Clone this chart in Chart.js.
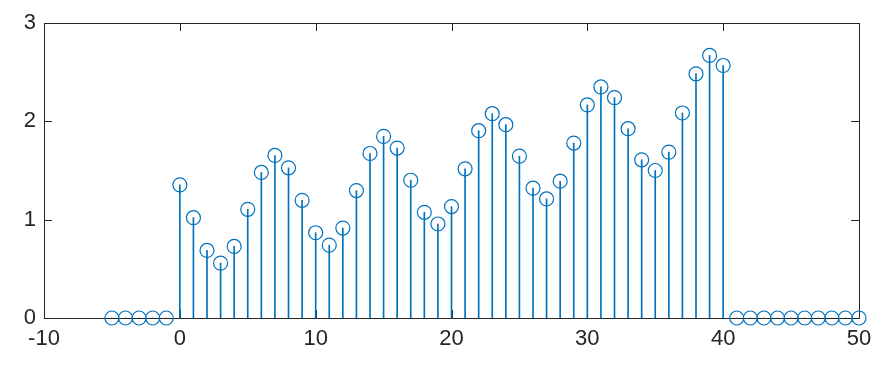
<!DOCTYPE html>
<html>
<head>
<meta charset="utf-8">
<script src="https://cdn.jsdelivr.net/npm/chart.js@4"></script>
<style>
  html, body { margin: 0; padding: 0; background: #fff; }
  canvas { display: block; }
</style>
</head>
<body>
<canvas id="grafico" width="892" height="377"></canvas>
<script>
// indices n and values y[n]
const indices = [-5, -4, -3, -2, -1, 0, 1, 2, 3, 4, 5, 6, 7, 8, 9, 10, 11, 12, 13, 14,
  15, 16, 17, 18, 19, 20, 21, 22, 23, 24, 25, 26, 27, 28, 29, 30, 31, 32, 33, 34,
  35, 36, 37, 38, 39, 40, 41, 42, 43, 44, 45, 46, 47, 48, 49, 50];
const valores = [0, 0, 0, 0, 0, 1.354, 1.02, 0.687, 0.558, 0.728, 1.105, 1.48, 1.653, 1.527, 1.197,
  0.867, 0.741, 0.915, 1.296, 1.673, 1.847, 1.728, 1.401, 1.075, 0.956,
  1.133, 1.517, 1.905, 2.078, 1.966, 1.646, 1.32, 1.211, 1.391, 1.779,
  2.167, 2.35, 2.241, 1.925, 1.609, 1.5, 1.687, 2.085, 2.483, 2.67, 2.568,
  0, 0, 0, 0, 0, 0, 0, 0, 0, 0];
const ticksX = [-10, 0, 10, 20, 30, 40, 50];
const ticksY = [0, 1, 2, 3];

const azul = "#0072BD";
const ejes = "#262626";

const puntos = indices.map((x, i) => ({ x: x, y: valores[i] }));

// caja y marcas hacia dentro, estilo MATLAB
const cajaEjes = {
  id: "cajaEjes",
  beforeDatasetsDraw(chart) {
    const { ctx, chartArea: a, scales } = chart;
    const largo = 8;
    ctx.save();
    ctx.strokeStyle = ejes;
    ctx.lineWidth = 1;
    ctx.strokeRect(a.left + 0.5, a.top + 0.5, a.right - a.left, a.bottom - a.top);
    ctx.beginPath();
    ticksX.forEach(t => {
      const px = Math.round(scales.x.getPixelForValue(t)) + 0.5;
      ctx.moveTo(px, a.bottom); ctx.lineTo(px, a.bottom - largo);
      ctx.moveTo(px, a.top); ctx.lineTo(px, a.top + largo);
    });
    ticksY.forEach(t => {
      const py = Math.round(scales.y.getPixelForValue(t)) + 0.5;
      ctx.moveTo(a.left, py); ctx.lineTo(a.left + largo, py);
      ctx.moveTo(a.right, py); ctx.lineTo(a.right - largo, py);
    });
    ctx.stroke();
    ctx.restore();
  }
};

const fuente = { family: "'Liberation Sans', Arial, sans-serif", size: 22 };

new Chart(document.getElementById("grafico"), {
  type: "scatter",
  data: {
    datasets: [
      {
        type: "scatter",
        data: puntos,
        showLine: false,
        pointStyle: "circle",
        pointRadius: 7,
        pointHoverRadius: 7,
        pointBorderWidth: 1.2,
        pointBorderColor: azul,
        pointBackgroundColor: "rgba(0,0,0,0)",
        clip: false,
        order: 0
      },
      {
        type: "bar",
        data: puntos,
        backgroundColor: azul,
        barThickness: 1,
        clip: false,
        order: 1
      }
    ]
  },
  options: {
    responsive: false,
    animation: false,
    events: [],
    layout: { padding: { top: 23, right: 33, left: 0, bottom: 0 } },
    plugins: { legend: { display: false }, tooltip: { enabled: false } },
    scales: {
      x: {
        type: "linear",
        min: -10,
        max: 50,
        offset: false,
        grid: { display: false, drawTicks: false },
        border: { display: false },
        afterBuildTicks: s => { s.ticks = ticksX.map(v => ({ value: v })); },
        afterFit: s => { s.height = 59; },
        ticks: { color: ejes, font: fuente, padding: 8, maxRotation: 0 }
      },
      y: {
        min: 0,
        max: 3,
        grid: { display: false, drawTicks: false },
        border: { display: false },
        afterBuildTicks: s => { s.ticks = ticksY.map(v => ({ value: v })); },
        afterFit: s => { s.width = 44; },
        ticks: { color: ejes, font: fuente, padding: 8 }
      }
    }
  },
  plugins: [cajaEjes]
});
</script>
</body>
</html>
